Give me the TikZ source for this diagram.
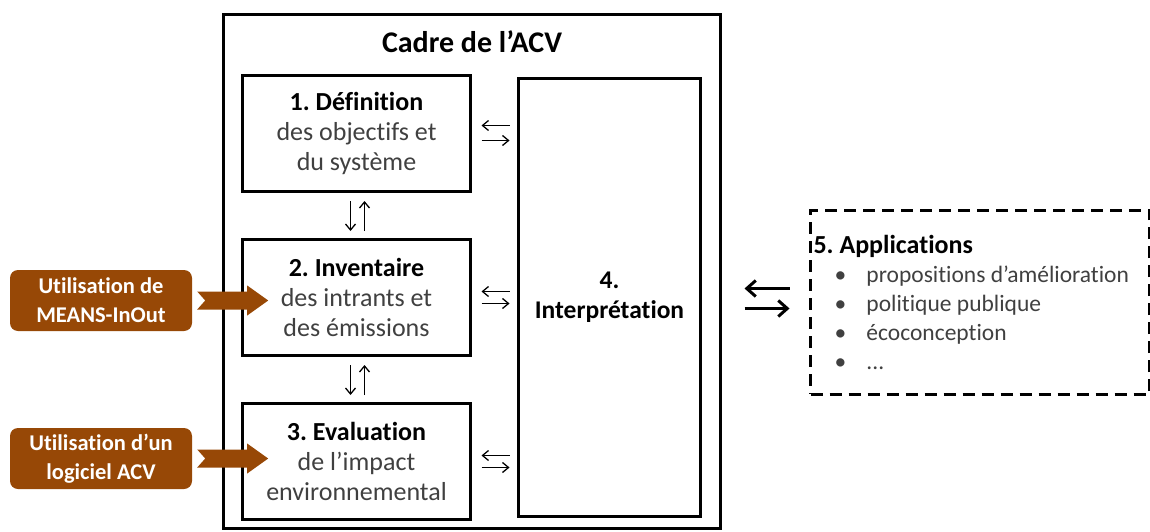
\documentclass[tikz,border=0pt]{standalone}
\usepackage{fontspec}
\setmainfont{Carlito}[RawFeature=-liga]
\usepackage{xcolor}
\usetikzlibrary{arrows.meta, positioning}
\definecolor{brunacv}{HTML}{974806}
\definecolor{grisacv}{HTML}{404040}
\frenchspacing

\begin{document}
\begin{tikzpicture}[x=1pt,y=1pt]
 \tikzstyle{etape}=[rectangle,draw=black,line width=3pt,
   minimum width=228pt,minimum height=116pt,align=center,
   inner sep=2pt,font=\fontsize{26}{30}\selectfont,text=grisacv]
 \tikzstyle{outil}=[rectangle,rounded corners=8pt,fill=brunacv,
   minimum width=182pt,minimum height=61pt,align=center,text=white,
   font=\fontsize{22.5}{29}\selectfont\bfseries]
 \tikzstyle{lien}=[line width=1.3pt,-{Straight Barb[length=6pt,width=10pt]}]
 \tikzstyle{grandlien}=[line width=3pt,-{Straight Barb[length=9pt,width=16pt]}]
 \useasboundingbox (0,0) rectangle (1150,-532);
 \node (cadre) [rectangle,draw=black,line width=3pt,
   minimum width=497pt,minimum height=514pt] at (472,-271.5) {};
 \node (titre) at (472,-42) [font=\fontsize{30}{34}\selectfont\bfseries]
   {Cadre de l’ACV};
 \node (def) [etape] at (356.5,-133.5)
   {\textcolor{black}{\textbf{1. Définition}}\\des objectifs et\\du système};
 \node (inv) [etape,below=45pt of def]
   {\textcolor{black}{\textbf{2. Inventaire}}\\des intrants et\\des émissions};
 \node (eval) [etape,below=45pt of inv]
   {\textcolor{black}{\textbf{3. Evaluation}}\\de l’impact\\environnemental};
 \node (interp) [etape,right=45pt of inv,minimum width=182pt,
   minimum height=437pt,text=black,font=\fontsize{25.5}{30}\selectfont\bfseries]
   {4.\\Interprétation};
 \node (appli) [rectangle,draw=black,line width=3pt,dash pattern=on 12pt off 7pt,
   right=107pt of interp,yshift=-4.5pt,minimum height=184pt,
   text width=333pt,inner xsep=3pt,align=flush left,text=grisacv,
   font=\fontsize{23.5}{29}\selectfont]
   {\textcolor{black}{\fontsize{26}{29}\selectfont\textbf{5. Applications}}\\
   \hspace*{21pt}\makebox[32pt][l]{\textbullet}propositions d’amélioration\\
   \hspace*{21pt}\makebox[32pt][l]{\textbullet}politique publique\\
   \hspace*{21pt}\makebox[32pt][l]{\textbullet}écoconception\\
   \hspace*{21pt}\makebox[32pt][l]{\textbullet}...\\[4pt]};
 \node (util1) [outil] at (101,-300.5) {Utilisation de\\MEANS-InOut};
 \node (util2) [outil] at (101,-458.5) {Utilisation d’un\\logiciel ACV};
 % fleches brunes
 \fill[brunacv] ([xshift=5pt]util1.east) ++(0,9pt) -- ++(50pt,0) -- ++(0,6pt)
   -- ++(21pt,-15pt) -- ++(-21pt,-15pt) -- ++(0,6pt) -- ++(-50pt,0)
   -- ++(8pt,9pt) -- cycle;
 \fill[brunacv] ([xshift=5pt]util2.east) ++(0,9pt) -- ++(50pt,0) -- ++(0,6pt)
   -- ++(21pt,-15pt) -- ++(-21pt,-15pt) -- ++(0,6pt) -- ++(-50pt,0)
   -- ++(8pt,9pt) -- cycle;
 \draw[lien,shorten <=8pt,shorten >=7pt] ([xshift=-6pt]def.south) -- ([xshift=-6pt]inv.north);
 \draw[lien,shorten <=7pt,shorten >=8pt] ([xshift=8pt]inv.north) -- ([xshift=8pt]def.south);
 \draw[lien,shorten <=8pt,shorten >=7pt] ([xshift=-6pt]inv.south) -- ([xshift=-6pt]eval.north);
 \draw[lien,shorten <=7pt,shorten >=8pt] ([xshift=8pt]eval.north) -- ([xshift=8pt]inv.south);
 \draw[lien,shorten <=7.5pt,shorten >=9.5pt] ([yshift=8pt]def.east -| interp.west) -- ([yshift=8pt]def.east);
 \draw[lien,shorten <=9.5pt,shorten >=7.5pt] ([yshift=-7pt]def.east) -- ([yshift=-7pt]def.east -| interp.west);
 \draw[lien,shorten <=7.5pt,shorten >=9.5pt] ([yshift=6pt]inv.east -| interp.west) -- ([yshift=6pt]inv.east);
 \draw[lien,shorten <=9.5pt,shorten >=7.5pt] ([yshift=-6pt]inv.east) -- ([yshift=-6pt]inv.east -| interp.west);
 \draw[lien,shorten <=7.5pt,shorten >=9.5pt] ([yshift=6pt]eval.east -| interp.west) -- ([yshift=6pt]eval.east);
 \draw[lien,shorten <=9.5pt,shorten >=7.5pt] ([yshift=-6pt]eval.east) -- ([yshift=-6pt]eval.east -| interp.west);
 \draw[grandlien,shorten <=19.5pt,shorten >=42.5pt] ([yshift=9pt]interp.east -| appli.west) -- ([yshift=9pt]interp.east);
 \draw[grandlien,shorten <=42.5pt,shorten >=19.5pt] ([yshift=-11pt]interp.east) -- ([yshift=-11pt]interp.east -| appli.west);
\end{tikzpicture}
\end{document}
